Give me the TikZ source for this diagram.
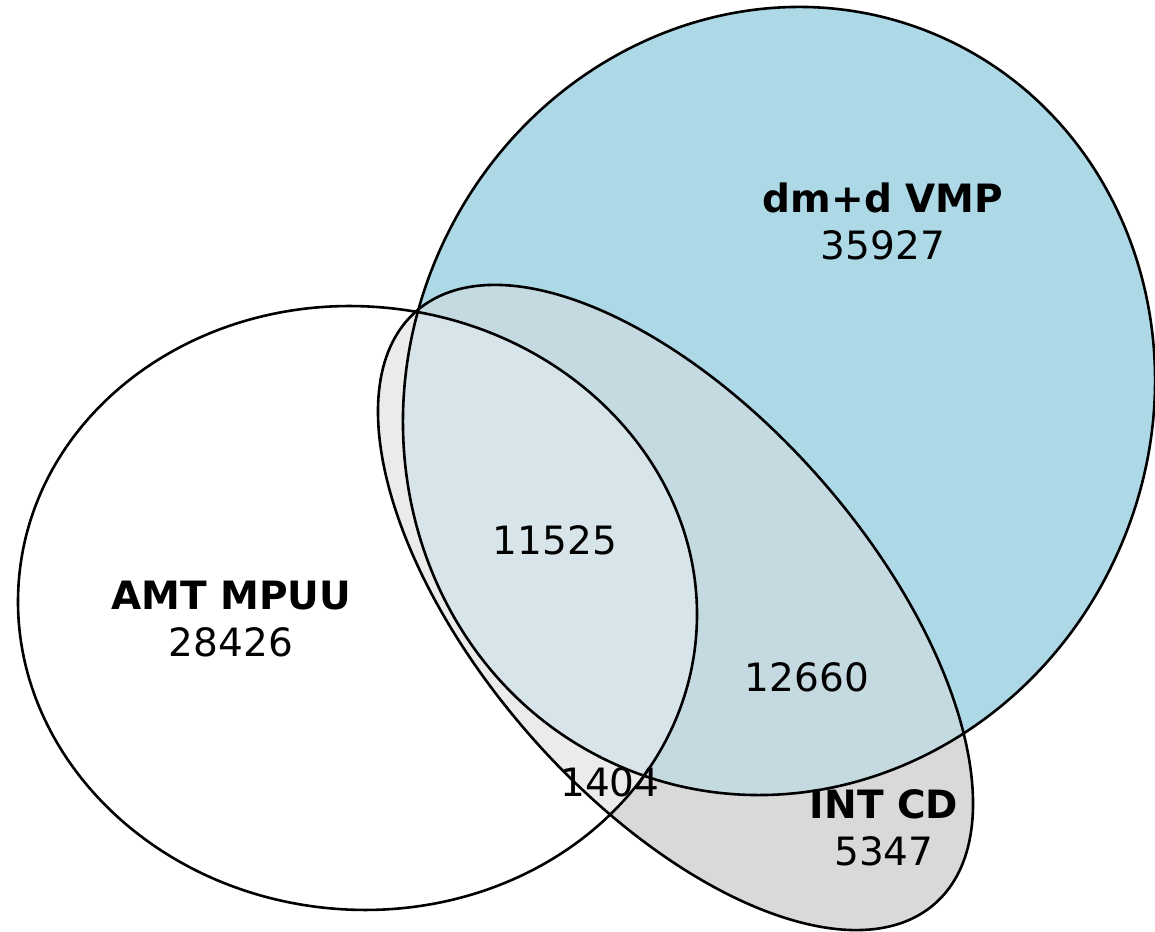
\documentclass[tikz,border=0pt]{standalone}
\usepackage{fontspec}
\setmainfont{DejaVu Sans}
\definecolor{vmpblue}{HTML}{ADD8E6}
\definecolor{cdgray}{HTML}{D9D9D9}
\definecolor{amtcd}{HTML}{EBEBEB}
\definecolor{vmpcd}{HTML}{C4D9E0}
\definecolor{amtvmp}{HTML}{D6EBF3}
\definecolor{allthree}{HTML}{D7E4EA}
% the three sets as rotated ellipses (1 unit = 1pt)
\tikzset{
  vmpset/.style={rotate around={65.6:(779,530)},
    insert path={(779,530) ellipse [x radius=398.5, y radius=371.2]}},
  amtset/.style={rotate around={-5.3:(357.5,323)},
    insert path={(357.5,323) ellipse [x radius=339.8, y radius=301.6]}},
  cdset/.style={rotate around={-48.8:(675.5,323.5)},
    insert path={(675.5,323.5) ellipse [x radius=393.7, y radius=193.7]}},
  setname/.style={font=\fontsize{39}{45}\selectfont\bfseries, anchor=base, inner sep=0pt},
  setcount/.style={font=\fontsize{39}{45}\selectfont, anchor=base, inner sep=0pt},
  outline/.style={draw=black, line width=2.6pt},
}
\begin{document}
\begin{tikzpicture}[x=1pt, y=1pt]
\useasboundingbox (0,0) rectangle (1155,931);
% region fills
\fill[vmpblue, vmpset];
\fill[cdgray, cdset];
\begin{scope}
  \clip[vmpset];
  \fill[vmpcd, cdset];
\end{scope}
\fill[white, amtset];
\begin{scope}
  \clip[amtset];
  \fill[amtcd, cdset];
  \clip[vmpset];
  \fill[amtvmp, vmpset];
  \fill[allthree, cdset];
\end{scope}
% outlines
\path[outline, vmpset];
\path[outline, amtset];
\path[outline, cdset];
% labels
\node[setname]  (vmpname)  at (883,718) {dm+d VMP};
\node[setcount] (vmpcount) at (883,671) {35927};
\node[setname]  (amtname)  at (231,321) {AMT MPUU};
\node[setcount] (amtcount) at (231,274) {28426};
\node[setname]  (cdname)   at (884,113) {INT CD};
\node[setcount] (cdcount)  at (884,66)  {5347};
\node[setcount] (amtvmpcd) at (555,376) {11525};
\node[setcount] (vmpcdonly) at (807,239) {12660};
\node[setcount] (amtcdonly) at (610,135) {1404};
\end{tikzpicture}
\end{document}
